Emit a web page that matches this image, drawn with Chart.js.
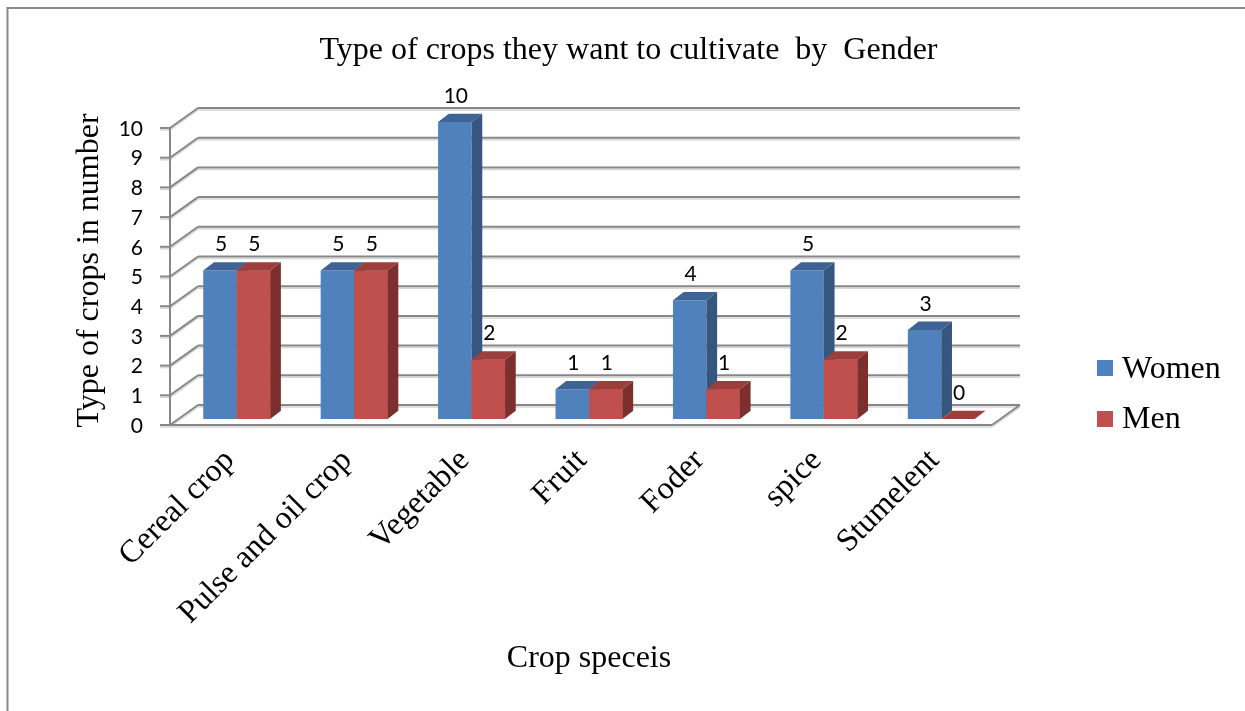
<!DOCTYPE html>
<html>
<head>
<meta charset="utf-8">
<title>Type of crops they want to cultivate by Gender</title>
<script src="https://cdn.jsdelivr.net/npm/chart.js@4/dist/chart.umd.min.js"></script>
<style>
  html, body { margin: 0; padding: 0; background: #ffffff; overflow: hidden; }
  #wrap { position: relative; width: 1245px; height: 711px; }
</style>
</head>
<body>
<div id="wrap"><canvas id="chart"></canvas></div>
<script>
// ---- data ----
const categories = ['Cereal crop', 'Pulse and oil crop', 'Vegetable', 'Fruit', 'Foder', 'spice', 'Stumelent'];
const women = [5, 5, 10, 1, 4, 5, 3];
const men = [5, 5, 2, 1, 1, 2, 0];
const seriesNames = ['Women', 'Men'];
const yMin = 0;
const yMax = 10;
const yStep = 1;

// ---- look ----
const SERIF = '"Liberation Serif", "Times New Roman", serif';
const SANS = 'Lato, "Liberation Sans", sans-serif';
const GRID = '#878787';
const GRID_SHADOW = '#d6d6d6';
const faces = [
  { front: '#4F81BD', top: '#3d6494', side: '#34567f' },
  { front: '#C0504D', top: '#9c3e3b', side: '#7c2f2d' }
];
// 3D offsets relative to the plane of the bar faces
const FRONT = { dx: -8, dy: 6 };     // floor front edge / value axis plane
const BACK = { dx: 20, dy: -14 };    // back wall
const BAR = { dx: 10.7, dy: -8.3 };  // bar depth

function line(ctx, x1, y1, x2, y2, color, width) {
  ctx.beginPath();
  ctx.strokeStyle = color;
  ctx.lineWidth = width;
  ctx.moveTo(x1, y1);
  ctx.lineTo(x2, y2);
  ctx.stroke();
}
function gridLine(ctx, x1, y1, x2, y2) {
  line(ctx, x1, y1 + 2, x2, y2 + 2, GRID_SHADOW, 1.5);
  line(ctx, x1, y1, x2, y2, GRID, 2);
}
function poly(ctx, pts, color) {
  ctx.beginPath();
  ctx.moveTo(pts[0][0], pts[0][1]);
  for (let i = 1; i < pts.length; i++) ctx.lineTo(pts[i][0], pts[i][1]);
  ctx.closePath();
  ctx.fillStyle = color;
  ctx.fill();
}

const box3d = {
  id: 'box3d',
  beforeDraw(chart) {
    const ctx = chart.ctx;
    ctx.save();
    // outer frame
    ctx.beginPath();
    ctx.strokeStyle = '#8a8a8a';
    ctx.lineWidth = 2;
    ctx.moveTo(7.5, chart.height);
    ctx.lineTo(7.5, 8);
    ctx.lineTo(chart.width, 8);
    ctx.stroke();
    ctx.restore();
  },
  beforeDatasetsDraw(chart) {
    const ctx = chart.ctx;
    const { left, right } = chart.chartArea;
    const y = chart.scales.y;
    ctx.save();
    ctx.lineCap = 'butt';
    // back wall gridlines and left wall diagonals
    for (let v = yMin; v <= yMax; v += yStep) {
      const p = y.getPixelForValue(v);
      gridLine(ctx, left + BACK.dx, p + BACK.dy, right + BACK.dx, p + BACK.dy);
      gridLine(ctx, left + FRONT.dx, p + FRONT.dy, left + BACK.dx, p + BACK.dy);
      // tick mark on the value axis
      gridLine(ctx, left + FRONT.dx - 10, p + FRONT.dy, left + FRONT.dx, p + FRONT.dy);
    }
    const p0 = y.getPixelForValue(yMin);
    const pTop = y.getPixelForValue(yMax);
    // value axis line
    line(ctx, left + FRONT.dx, pTop + FRONT.dy, left + FRONT.dx, p0 + FRONT.dy + 1, GRID, 2);
    // floor: front and right edges
    gridLine(ctx, left + FRONT.dx, p0 + FRONT.dy, right + FRONT.dx, p0 + FRONT.dy);
    gridLine(ctx, right + FRONT.dx, p0 + FRONT.dy, right + BACK.dx, p0 + BACK.dy);
    ctx.restore();
  },
  afterDatasetsDraw(chart) {
    const ctx = chart.ctx;
    const metas = chart.data.datasets.map((d, i) => chart.getDatasetMeta(i));
    ctx.save();
    for (let j = 0; j < categories.length; j++) {
      metas.forEach((meta, i) => {
        const el = meta.data[j];
        if (!el) return;
        if (i > 0) el.draw(ctx);
        const { x, y, base, width } = el.getProps(['x', 'y', 'base', 'width'], true);
        const l = x - width / 2, r = x + width / 2;
        const c = faces[i];
        poly(ctx, [[l, y], [r, y], [r + BAR.dx, y + BAR.dy], [l + BAR.dx, y + BAR.dy]], c.top);
        poly(ctx, [[r, y], [r + BAR.dx, y + BAR.dy], [r + BAR.dx, base + BAR.dy], [r, base]], c.side);
      });
    }
    // value labels
    ctx.fillStyle = '#000';
    ctx.font = '21px ' + SANS;
    ctx.textAlign = 'center';
    ctx.textBaseline = 'middle';
    metas.forEach((meta, i) => {
      const vals = chart.data.datasets[i].data;
      meta.data.forEach((el, j) => {
        const { x, y } = el.getProps(['x', 'y'], true);
        ctx.fillText(String(vals[j]), x + 1, y - 26);
      });
    });
    ctx.restore();
  },
  afterDraw(chart) {
    // legend
    const ctx = chart.ctx;
    ctx.save();
    ctx.font = '32px ' + SERIF;
    ctx.textAlign = 'left';
    ctx.textBaseline = 'alphabetic';
    chart.data.datasets.forEach((ds, i) => {
      const yTop = 360 + i * 51;
      ctx.fillStyle = ds.backgroundColor;
      ctx.fillRect(1097, yTop, 16, 16);
      ctx.fillStyle = '#000';
      ctx.fillText(ds.label, 1122, 378 + i * 50);
    });
    ctx.restore();
  }
};

new Chart(document.getElementById('chart'), {
  type: 'bar',
  data: {
    labels: categories,
    datasets: [
      { label: seriesNames[0], data: women, backgroundColor: faces[0].front, borderWidth: 0 },
      { label: seriesNames[1], data: men, backgroundColor: faces[1].front, borderWidth: 0 }
    ]
  },
  options: {
    responsive: true,
    maintainAspectRatio: false,
    animation: false,
    events: [],
    layout: { padding: { left: 12, top: 0, right: 0, bottom: 0 } },
    datasets: { bar: { categoryPercentage: 0.57, barPercentage: 1.0 } },
    plugins: {
      legend: { display: false },
      tooltip: { enabled: false },
      title: {
        display: true,
        text: 'Type of crops they want to cultivate  by  Gender',
        color: '#000',
        font: { family: SERIF, size: 32, weight: 'normal', lineHeight: 1.2 },
        padding: { top: 31, bottom: 52.6 }
      }
    },
    scales: {
      x: {
        grid: { display: false, drawTicks: false },
        border: { display: false },
        ticks: {
          color: '#000',
          font: { family: SERIF, size: 32, lineHeight: 1.2 },
          minRotation: 45,
          maxRotation: 45,
          autoSkip: false,
          padding: 23,
          labelOffset: -7
        },
        title: {
          display: true,
          text: 'Crop speceis',
          color: '#000',
          font: { family: SERIF, size: 32, lineHeight: 1.2 },
          padding: { top: 0, bottom: 33 }
        },
        afterFit(s) { s.height = 292; }
      },
      y: {
        min: yMin,
        max: yMax,
        grid: { display: false, drawTicks: false },
        border: { display: false },
        ticks: {
          stepSize: yStep,
          color: '#000',
          font: { family: SANS, size: 21 },
          padding: 35,
          labelOffset: 7
        },
        title: {
          display: true,
          text: 'Type of crops in number',
          color: '#000',
          font: { family: SERIF, size: 32, lineHeight: 1.2 },
          padding: { top: 58, bottom: 0 }
        },
        afterFit(s) { s.width = 166; }
      },
      side: {
        type: 'linear',
        position: 'right',
        display: true,
        grid: { display: false, drawTicks: false },
        border: { display: false },
        ticks: { display: false },
        afterFit(s) { s.width = 245; }
      }
    }
  },
  plugins: [box3d]
});
</script>
</body>
</html>
